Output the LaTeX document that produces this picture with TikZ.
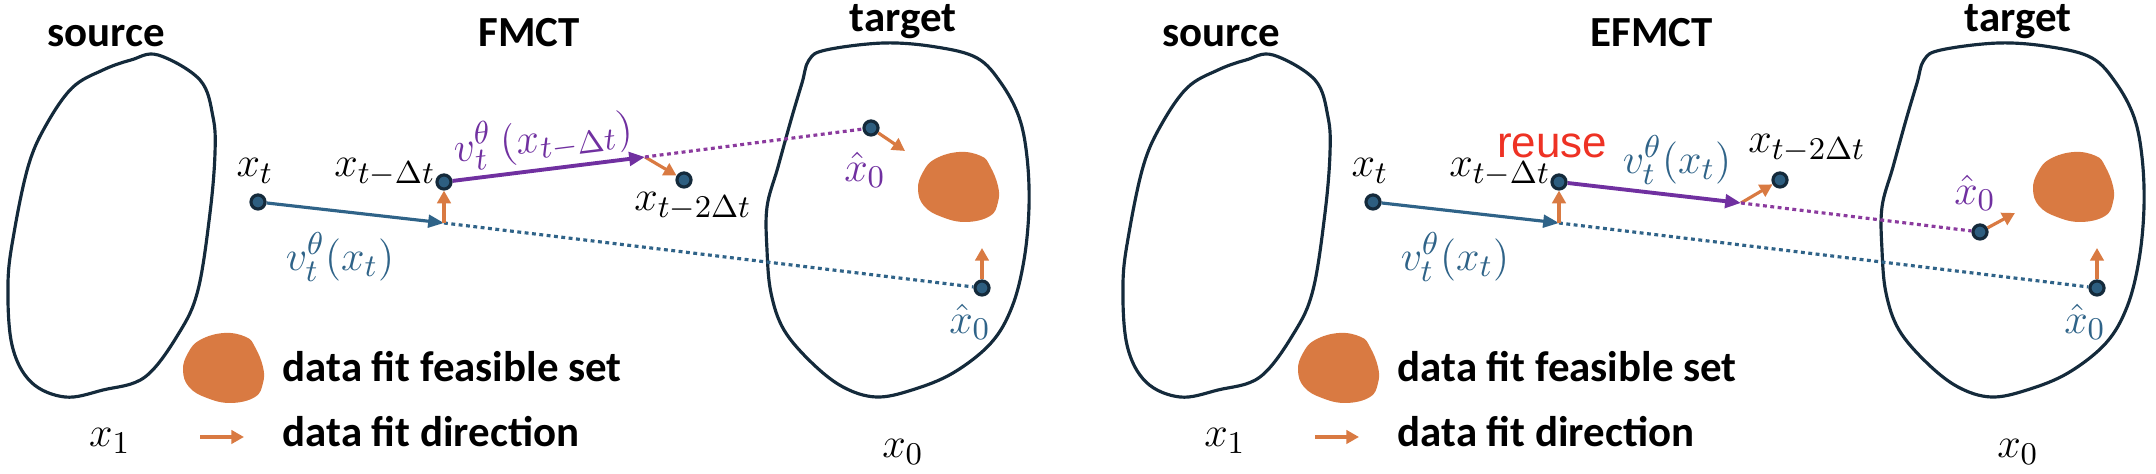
\documentclass[tikz,border=0pt]{standalone}
\usepackage[no-math]{fontspec}
\setmainfont{Carlito}
\newfontfamily\reusefont{Liberation Sans}
\usepackage{amsmath}
\usepackage{tikz}
\usetikzlibrary{arrows.meta}
\definecolor{navy}{HTML}{142A3B}
\definecolor{dotblue}{HTML}{2D5E80}
\definecolor{flowblue}{HTML}{2F6388}
\definecolor{flowpurple}{HTML}{7030A0}
\definecolor{dotpurple}{HTML}{8B3A9E}
\definecolor{fitorange}{HTML}{D97A42}
\definecolor{reusered}{HTML}{EE3224}
\tikzstyle{vertex}=[circle,fill=dotblue,draw=navy,line width=0.9pt,minimum size=4pt,inner sep=0pt]
\tikzstyle{heading}=[font=\fontsize{12.2}{14}\selectfont\bfseries,anchor=base,inner sep=0pt]
\tikzstyle{legendtext}=[font=\fontsize{12.2}{14}\selectfont\bfseries,anchor=base west,inner sep=0pt]
\tikzstyle{mathlabel}=[font=\fontsize{13}{15}\selectfont,inner sep=0pt]
\tikzstyle{region}=[draw=navy,line width=0.9pt]
\tikzstyle{blueflow}=[draw=flowblue,line width=0.9pt,-{Triangle[length=4.5pt,width=3.6pt]}]
\tikzstyle{purpleflow}=[draw=flowpurple,line width=1.1pt,-{Triangle[length=4.5pt,width=3.8pt]}]
\tikzstyle{fitdir}=[draw=fitorange,line width=0.9pt,-{Triangle[length=3.6pt,width=3.8pt]}]
\tikzstyle{bluedots}=[draw=flowblue,line width=0.9pt,dash pattern=on 1.1pt off 1pt]
\tikzstyle{purpledots}=[draw=dotpurple,line width=0.9pt,dash pattern=on 1.1pt off 1pt]
\newcommand{\blob}[1]{\fill[fitorange,shift={#1}] plot[smooth cycle,tension=0.7] coordinates {(0,-35) (22,-31) (31,-21) (39,-1) (39,15) (31,29) (7,35) (-17,30) (-35,19) (-41,2) (-36,-15) (-24,-28)};}

\begin{document}
\begin{tikzpicture}[x=0.01cm,y=-0.01cm]
    \useasboundingbox (0,0) rectangle (2156,474);
    % Both panels share the sets, the first step and the legend
    \foreach \p/\dx in {L/0, R/1115}{
    \begin{scope}[xshift=\dx*0.01cm]
        % source set
        \node[heading] (source\p) at (106,47) {source};
        \draw[region] plot[smooth cycle,tension=0.6] coordinates {(158,55) (200,80) (213,117) (215,153) (210,213) (198,290) (179,333) (145,377) (103,390) (65,397) (31,382) (12,345) (8,283) (14,233) (28,167) (45,127) (72,88) (103,70) (131,60)};
        \node[mathlabel,anchor=base] (xone\p) at (110,447) {$x_1$};
        % target set
        \node[heading] (target\p) at (903,32) {target};
        \draw[region] plot[smooth cycle,tension=0.6] coordinates {(809,60) (826,50) (884,43) (936,47) (977,58) (1001,83) (1019,117) (1027,157) (1029,207) (1024,260) (1012,307) (991,343) (953,373) (912,390) (876,397) (843,387) (812,363) (784,330) (771,293) (767,250) (767,207) (778,167) (791,120) (802,83)};
        \blob{(959,187)}
        \node[mathlabel,anchor=base] (xzero\p) at (903,458) {$x_0$};
        % legend
        \blob{(224,368)}
        \node[legendtext] (feasible\p) at (282,382) {data fit feasible set};
        \coordinate (fitA\p) at (200,437);
        \coordinate (fitB\p) at (244,437);
        \draw[fitdir] (fitA\p) -- (fitB\p);
        \node[legendtext] (direction\p) at (282,447) {data fit direction};
        % first step from x_t
        \foreach \pos/\name in {{(258,202)/xt\p}, {(444,182)/xa\p}, {(982,288)/xhb\p}}
            \node[vertex] (\name) at \pos {};
        \coordinate (bt\p) at (444,223);
        \coordinate (up\p) at (982,248);
        \draw[blueflow] (xt\p) -- (bt\p);
        \draw[bluedots] (bt\p) -- (xhb\p);
        \draw[fitdir] (bt\p) -- (xa\p);
        \draw[fitdir] (xhb\p) -- (up\p);
        \node[mathlabel] (lxt\p) at (255,171) {$x_t$};
        \node[mathlabel] (lxa\p) at (385,172) {$x_{t-\Delta t}$};
        \node[mathlabel,text=flowblue] (lvt\p) at (340,257) {$v_t^\theta(x_t)$};
        \node[mathlabel,text=flowblue] (lxhb\p) at (970,322) {$\hat{x}_0$};
    \end{scope}
    }
    % FMCT: second velocity from x_{t-dt}
    \node[heading] (fmct) at (529,47) {FMCT};
    \coordinate (ptL) at (645,157);
    \node[vertex] (xbL) at (684,180) {};
    \node[vertex] (xhpL) at (871,128) {};
    \coordinate (fpL) at (905,151);
    \draw[purpleflow] (xaL) -- (ptL);
    \draw[fitdir] (ptL) -- (xbL);
    \draw[purpledots] (ptL) -- (xhpL);
    \draw[fitdir] (xhpL) -- (fpL);
    \node[mathlabel,text=flowpurple,rotate=7] (lvpL) at (543,138) {$v_t^\theta\,(x_{t-\Delta t})$};
    \node[mathlabel] (lxbL) at (693,206) {$x_{t-2\Delta t}$};
    \node[mathlabel,text=flowpurple] (lxhpL) at (865,170) {$\hat{x}_0$};
    % EFMCT: the first velocity is reused
    \node[heading] (efmct) at (1652,47) {EFMCT};
    \coordinate (ptR) at (1741,203);
    \node[vertex] (xbR) at (1780,180) {};
    \node[vertex] (xhpR) at (1980,232) {};
    \coordinate (fpR) at (2015,213);
    \draw[purpleflow] (xaR) -- (ptR);
    \draw[fitdir] (ptR) -- (xbR);
    \draw[purpledots] (ptR) -- (xhpR);
    \draw[fitdir] (xhpR) -- (fpR);
    \node[font=\reusefont\fontsize{12.5}{14}\selectfont,text=reusered,inner sep=0pt] (reuse) at (1552,146) {reuse};
    \node[mathlabel,text=flowblue] (lvr) at (1677,160) {$v_t^\theta(x_t)$};
    \node[mathlabel] (lxbR) at (1807,148) {$x_{t-2\Delta t}$};
    \node[mathlabel,text=flowpurple] (lxhpR) at (1975,193) {$\hat{x}_0$};
\end{tikzpicture}
\end{document}
